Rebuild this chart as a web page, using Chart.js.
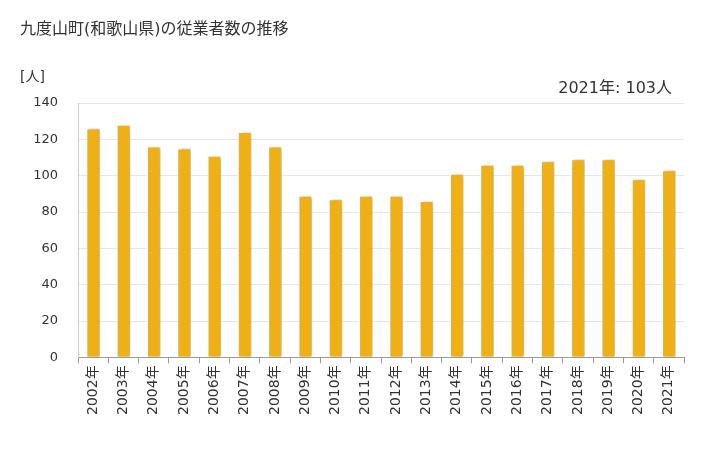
<!DOCTYPE html>
<html>
<head>
<meta charset="utf-8">
<script src="https://cdn.jsdelivr.net/npm/chart.js@4"></script>
<style>
  html, body { margin: 0; padding: 0; background: #fff; }
  #wrap { width: 728px; height: 450px; }
</style>
</head>
<body>
<div id="wrap"><canvas id="chart" width="728" height="450"></canvas></div>
<script>
const years = ['2002年', '2003年', '2004年', '2005年', '2006年', '2007年', '2008年', '2009年', '2010年', '2011年',
               '2012年', '2013年', '2014年', '2015年', '2016年', '2017年', '2018年', '2019年', '2020年', '2021年'];
const workers = [126, 128, 116, 115, 111, 124, 116, 89, 87, 89, 89, 86, 101, 106, 106, 108, 109, 109, 98, 103];
const yTicks = [0, 20, 40, 60, 80, 100, 120, 140];

const FONT = '"DejaVu Sans", "Noto Sans CJK JP", sans-serif';

const shadowPlugin = {
    id: 'barShadow',
    beforeDatasetDraw(chart) {
        const c = chart.ctx;
        c.save();
        c.shadowColor = 'rgba(0,0,0,0.28)';
        c.shadowOffsetX = 3;
        c.shadowOffsetY = 0;
        c.shadowBlur = 3;
    },
    afterDatasetDraw(chart) {
        chart.ctx.restore();
    }
};

const textPlugin = {
    id: 'texts',
    afterDraw(chart) {
        const c = chart.ctx;
        c.save();
        c.fillStyle = '#333';
        c.textBaseline = 'alphabetic';
        c.font = '16px ' + FONT;
        c.textAlign = 'left';
        c.fillText('九度山町(和歌山県)の従業者数の推移', 20, 34);
        c.font = '14px ' + FONT;
        c.fillText('[人]', 20, 81);
        c.font = '16px ' + FONT;
        c.textAlign = 'right';
        const last = workers.length - 1;
        c.fillText(years[last] + ': ' + workers[last] + '人', 672, 93);
        c.restore();
    }
};

new Chart(document.getElementById('chart').getContext('2d'), {
    type: 'bar',
    data: {
        labels: years,
        datasets: [{
            data: workers,
            backgroundColor: '#EEB015',
            borderColor: '#ffffff',
            borderWidth: 1,
            barPercentage: 0.5,
            categoryPercentage: 0.9
        }]
    },
    options: {
        responsive: false,
        animation: false,
        layout: { padding: { top: 103, right: 44, bottom: 33, left: 0 } },
        plugins: { legend: { display: false }, tooltip: { enabled: false } },
        scales: {
            x: {
                grid: { display: true, drawOnChartArea: false, offset: true, color: '#999', tickLength: 6 },
                border: { color: '#999' },
                ticks: { color: '#333', font: { family: FONT, size: 14 }, minRotation: 90, maxRotation: 90, padding: 2 }
            },
            y: {
                min: 0, max: 140,
                afterFit(s) { s.width = 78; },
                afterBuildTicks(s) { s.ticks = yTicks.map(v => ({ value: v })); },
                grid: { color: '#e6e6e6', drawTicks: false },
                border: { color: '#ccc' },
                ticks: { color: '#333', font: { family: FONT, size: 13 }, padding: 20 }
            }
        }
    },
    plugins: [shadowPlugin, textPlugin]
});
</script>
</body>
</html>
